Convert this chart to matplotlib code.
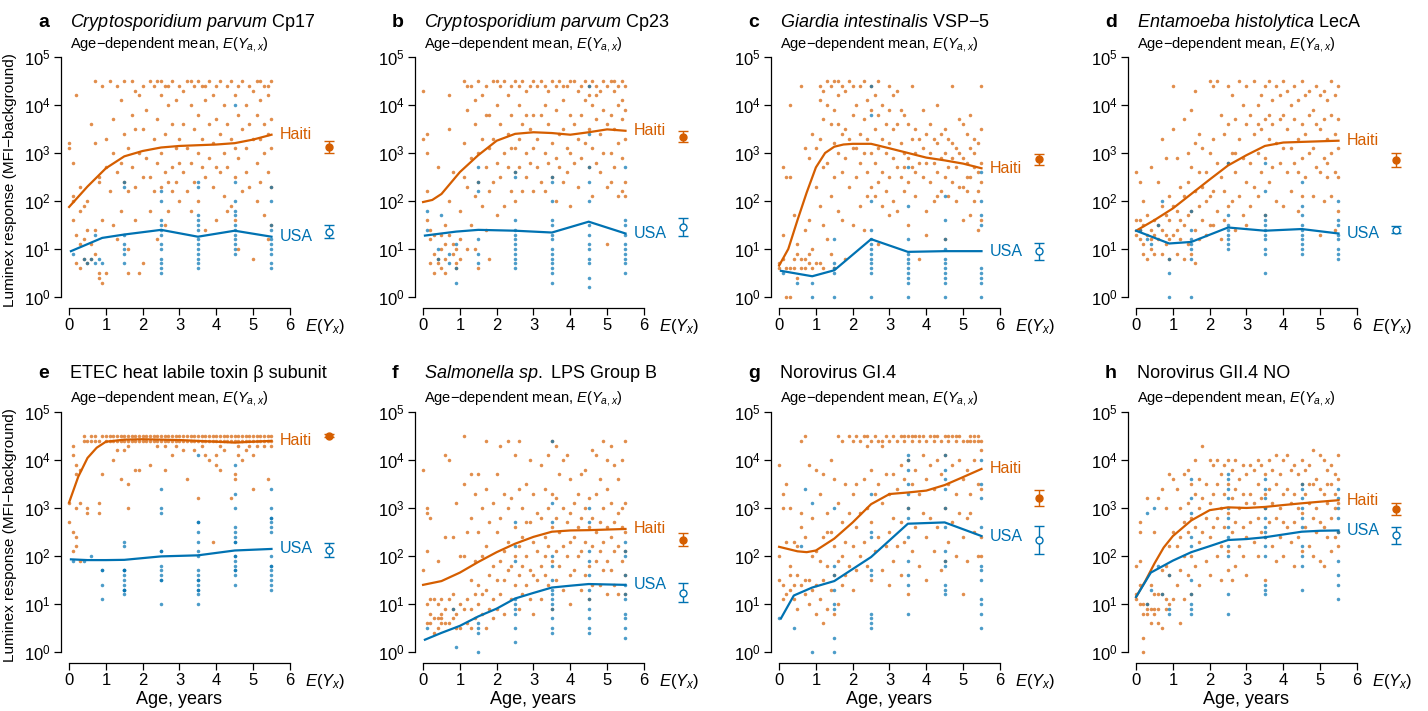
import matplotlib
matplotlib.use("Agg")
import matplotlib.pyplot as plt
import numpy as np

plt.rcParams['font.family'] = ['Liberation Sans', 'DejaVu Sans']
plt.rcParams['mathtext.fontset'] = 'custom'
plt.rcParams['mathtext.rm'] = 'Liberation Sans'
plt.rcParams['mathtext.it'] = 'Liberation Sans:italic'
plt.rcParams['mathtext.bf'] = 'Liberation Sans:bold'

ORANGE = '#D55E00'
BLUE = '#0072B2'

letters = ['a', 'b', 'c', 'd', 'e', 'f', 'g', 'h']
titles = [r'$\mathit{Cryptosporidium\ parvum}$ Cp17',
          r'$\mathit{Cryptosporidium\ parvum}$ Cp23',
          r'$\mathit{Giardia\ intestinalis}$ VSP−5',
          r'$\mathit{Entamoeba\ histolytica}$ LecA',
          'ETEC heat labile toxin β subunit',
          r'$\mathit{Salmonella\ sp.}$ LPS Group B',
          'Norovirus GI.4',
          'Norovirus GII.4 NO']

# overall means E(Y_x) with 95% CI
haiti_mean = [1350, 2200, 750, 730, 32000, 220, 1650, 950]
haiti_lo = [1000, 1700, 570, 500, 30000, 160, 1100, 720]
haiti_hi = [1800, 2900, 950, 1000, 35000, 300, 2400, 1250]
usa_mean = [23, 29, 9, 25, 130, 17, 220, 270]
usa_lo = [17, 19, 6, 21, 95, 11, 110, 180]
usa_hi = [32, 44, 13, 30, 185, 27, 420, 400]

# age-dependent means (age, value)
a_hai_curve = [(0, 75), (0.5, 200), (1, 480), (1.5, 850), (2, 1100), (2.5, 1300), (3, 1400),
               (3.5, 1450), (4, 1500), (4.5, 1600), (5, 1900), (5.5, 2400)]
a_usa_curve = [(0.05, 9), (0.9, 17), (1.5, 20), (2.5, 25), (3.5, 18), (4.5, 24), (5.5, 18)]
b_hai_curve = [(0, 95), (0.25, 105), (0.5, 140), (1, 400), (1.5, 900), (2, 1800), (2.5, 2500),
               (3, 2700), (3.5, 2600), (4, 2400), (4.5, 2700), (5, 3100), (5.5, 2900)]
b_usa_curve = [(0.05, 19), (0.9, 23), (1.5, 25), (2.5, 24), (3.5, 22), (4.5, 37), (5.5, 21)]
c_hai_curve = [(0, 4.5), (0.25, 10), (0.5, 40), (0.75, 150), (1, 500), (1.25, 1000), (1.5, 1350),
               (1.75, 1500), (2, 1550), (2.5, 1550), (3, 1250), (3.5, 1000), (4, 800),
               (4.5, 700), (5, 600), (5.5, 480)]
c_usa_curve = [(0.05, 3.5), (0.9, 2.7), (1.5, 3.6), (2.5, 16), (3.5, 8.7), (4.5, 9), (5.5, 9)]
d_hai_curve = [(0, 24), (0.5, 40), (1, 70), (1.5, 140), (2, 280), (2.5, 550), (3, 900),
               (3.5, 1400), (4, 1650), (4.5, 1700), (5, 1750), (5.5, 1800)]
d_usa_curve = [(0, 24), (0.9, 13), (1.5, 14), (2.5, 28), (3.5, 24), (4.5, 26), (5.5, 21)]
e_hai_curve = [(0, 1300), (0.25, 4500), (0.5, 11000), (0.75, 18000), (1, 24000), (1.5, 26500),
               (2, 27000), (3, 26000), (4, 24000), (4.5, 23000), (5, 24000), (5.5, 25000)]
e_usa_curve = [(0.05, 85), (0.5, 82), (1, 82), (1.5, 83), (2.5, 98), (3.5, 103), (4.5, 130), (5.5, 140)]
f_hai_curve = [(0, 25), (0.5, 30), (1, 45), (1.5, 75), (2, 120), (2.5, 180), (3, 250),
               (3.5, 320), (4, 340), (4.5, 345), (5, 355), (5.5, 365)]
f_usa_curve = [(0.05, 1.8), (0.5, 2.5), (1, 3.5), (1.5, 5.5), (2, 8), (2.5, 13), (3, 17),
               (3.5, 22), (4, 24), (4.5, 26), (5, 25.5), (5.5, 25)]
g_hai_curve = [(0, 155), (0.5, 125), (0.75, 120), (1, 130), (1.5, 230), (2, 500), (2.5, 1200),
               (3, 1950), (3.5, 2100), (4, 2300), (4.5, 3000), (5, 4400), (5.5, 6500)]
g_usa_curve = [(0.05, 5), (0.4, 15), (0.9, 22), (1.5, 30), (2.5, 95), (3.5, 470), (4.5, 500), (5.5, 260)]
h_hai_curve = [(0, 14), (0.25, 30), (0.5, 70), (0.75, 150), (1, 260), (1.5, 550), (2, 900),
               (2.5, 1030), (3, 1000), (3.5, 1050), (4, 1150), (4.5, 1250), (5, 1350), (5.5, 1450)]
h_usa_curve = [(0, 14), (0.4, 45), (1, 80), (1.5, 120), (2, 160), (2.5, 215), (3, 225),
               (3.5, 245), (4, 280), (4.5, 320), (5, 335), (5.5, 340)]

# individual measurements: (age in tenths of a year, log10 response in tenths)
a_hai = [(0,32),(0,31),(1,28),(1,21),(1,16),(2,13),(2,42),(3,18),(3,11),(3,6),(4,19),(4,12),(5,14),
         (5,20),(6,11),(6,8),(6,36),(7,14),(7,45),(7,32),(8,25),(8,5),(8,24),(9,3),(9,16),(9,44),
         (10,27),(10,5),(2,7),(4,8),(5,7),(7,9),(8,4),(1,20),(3,23),
         (10,33),(11,45),(11,22),(12,30),(12,37),(12,15),(13,44),(13,26),(14,41),(14,18),(14,28),
         (15,45),(15,34),(15,24),(16,31),(16,22),(16,10),(17,45),(17,38),(17,27),(18,23),(18,43),
         (18,16),(19,30),(19,42),(19,5),(20,44),(20,35),(20,25),(20,7),(13,12),(16,5),(18,35),
         (21,29),(21,39),(22,45),(22,25),(22,18),(23,44),(23,33),(23,22),(24,37),(24,28),(24,12),
         (25,45),(25,42),(25,30),(25,23),(26,44),(26,34),(26,26),(27,40),(27,24),(27,18),(28,45),
         (28,36),(28,27),(28,22),(29,31),(29,41),(29,24),(30,44),(30,33),(30,28),(30,20),(26,15),
         (24,45),(27,44),
         (31,43),(31,36),(31,26),(32,45),(32,31),(32,22),(33,40),(33,28),(33,18),(34,44),(34,35),
         (34,24),(35,45),(35,38),(35,30),(35,20),(36,44),(36,33),(36,27),(37,41),(37,25),(37,14),
         (38,45),(38,36),(38,29),(39,32),(39,23),(39,42),(40,44),(40,37),(40,27),(40,16),(33,45),
         (37,44),
         (41,45),(41,34),(41,26),(42,40),(42,30),(42,21),(43,44),(43,36),(43,27),(44,45),(44,33),
         (44,19),(45,42),(45,31),(45,25),(45,16),(46,44),(46,38),(46,29),(47,35),(47,22),(47,45),
         (48,40),(48,31),(48,26),(49,44),(49,36),(49,23),(50,33),(50,8),(50,43),(46,10),(43,18),
         (51,45),(51,38),(51,28),(51,20),(52,41),(52,33),(52,24),(53,44),(53,36),(53,30),(53,17),
         (54,42),(54,34),(54,26),(54,12),(55,45),(55,37),(55,31),(55,23),(55,15),(52,45),(54,44)]
a_usa = [(1,9),(4,8),(5,7),(6,8),(7,7),(8,8),(9,7),(7,13),(15,24),(15,23),(15,13),(15,11),(15,10),
         (15,9),(15,7),(25,22),(25,20),(25,16),(25,15),(25,14),(25,13),(25,11),(25,10),(25,8),
         (25,7),(25,6),(25,5),(35,24),(35,23),(35,17),(35,16),(35,15),(35,14),(35,12),(35,11),
         (35,10),(35,9),(35,8),(35,7),(35,6),(45,40),(45,24),(45,20),(45,18),(45,17),(45,15),
         (45,14),(45,13),(45,12),(45,11),(45,10),(45,9),(55,23),(55,20),(55,15),(55,14),(55,12),
         (55,11),(55,10),(55,9),(55,7),(55,6)]

b_hai = [(0,43),(0,33),(1,34),(1,30),(1,22),(1,16),(2,14),(2,12),(3,9),(3,5),(3,13),(4,27),(4,8),
         (4,7),(5,10),(5,13),(5,6),(6,15),(6,8),(6,5),(7,42),(7,35),(7,20),(7,13),(8,26),(8,11),
         (8,9),(9,7),(9,6),(10,18),(10,12),(10,8),(2,7),(6,11),(9,10),
         (11,45),(11,32),(11,25),(12,39),(12,23),(12,10),(13,44),(13,29),(13,15),(14,41),(14,36),
         (14,21),(14,10),(15,45),(15,30),(15,24),(15,6),(16,42),(16,33),(16,19),(17,44),(17,27),
         (17,14),(18,38),(18,31),(18,22),(18,8),(19,45),(19,33),(19,24),(20,45),(20,40),(20,28),
         (20,17),(12,44),(17,38),
         (21,44),(21,36),(21,25),(22,45),(22,30),(22,19),(23,42),(23,34),(23,27),(24,44),(24,38),
         (24,22),(25,45),(25,31),(25,26),(25,20),(26,44),(26,40),(26,33),(26,27),(27,45),(27,36),
         (27,22),(28,43),(28,30),(28,25),(29,44),(29,35),(29,28),(30,45),(30,38),(30,31),(30,22),
         (24,31),(28,38),
         (31,44),(31,33),(31,27),(32,45),(32,38),(32,24),(33,44),(33,30),(33,22),(34,43),(34,36),
         (34,28),(35,45),(35,32),(35,25),(36,44),(36,39),(36,29),(36,20),(37,45),(37,34),(37,27),
         (38,41),(38,35),(38,24),(39,44),(39,31),(39,26),(40,45),(40,38),(40,30),(40,19),(33,40),
         (38,44),
         (41,45),(41,36),(41,28),(42,43),(42,33),(42,23),(43,44),(43,38),(43,29),(44,45),(44,41),
         (44,32),(45,44),(45,42),(45,35),(45,27),(46,45),(46,40),(46,31),(46,21),(47,44),(47,37),
         (47,28),(48,43),(48,34),(48,26),(49,45),(49,39),(49,30),(50,44),(50,36),(50,23),(50,11),
         (47,42),
         (51,45),(51,38),(51,30),(51,24),(52,43),(52,35),(52,27),(53,44),(53,40),(53,32),(53,21),
         (54,45),(54,37),(54,29),(54,22),(55,44),(55,39),(55,33),(55,24),(55,21),(52,45),(54,41)]
b_usa = [(1,18),(1,14),(4,10),(4,8),(5,17),(7,9),(7,7),(9,6),(9,3),(9,11),(15,27),(15,24),(15,22),
         (15,12),(15,9),(15,7),(25,26),(25,25),(25,16),(25,14),(25,13),(25,12),(25,11),(25,10),
         (25,9),(25,8),(25,7),(25,6),(35,25),(35,24),(35,20),(35,16),(35,15),(35,13),(35,12),
         (35,10),(35,9),(35,8),(35,7),(35,6),(35,5),(35,3),(45,44),(45,34),(45,27),(45,24),(45,20),
         (45,15),(45,13),(45,11),(45,10),(45,8),(45,7),(45,4),(45,2),(55,27),(55,16),(55,15),
         (55,13),(55,11),(55,10),(55,9),(55,8),(55,7),(55,5)]

c_hai = [(0,7),(0,6),(1,13),(1,8),(2,25),(2,6),(2,0),(3,25),(3,6),(3,0),(4,6),(4,17),(4,8),(5,9),
         (5,4),(6,8),(6,6),(6,44),(7,14),(7,8),(7,6),(7,31),(8,9),(8,7),(8,16),(8,29),(9,34),(9,10),
         (9,6),(10,7),(10,23),(10,31),(3,40),(5,11),(1,27),
         (11,44),(11,41),(11,33),(11,19),(11,7),(12,43),(12,37),(12,27),(12,15),(12,6),(13,45),
         (13,40),(13,28),(13,12),(14,44),(14,36),(14,21),(14,9),(15,45),(15,39),(15,32),(15,25),
         (15,6),(16,42),(16,36),(16,30),(16,18),(17,44),(17,34),(17,26),(17,16),(18,43),(18,35),
         (18,29),(18,8),(19,45),(19,33),(19,23),(20,44),(20,38),(20,31),(20,15),(16,45),
         (21,40),(21,31),(21,25),(22,44),(22,34),(22,28),(22,19),(23,45),(23,37),(23,30),(23,14),
         (24,41),(24,33),(24,26),(25,44),(25,39),(25,30),(25,23),(26,42),(26,35),(26,28),(26,21),
         (27,45),(27,38),(27,31),(27,24),(27,11),(28,40),(28,33),(28,26),(28,19),(29,36),(29,30),
         (29,22),(30,44),(30,39),(30,32),(30,25),(30,17),(24,21),
         (31,42),(31,35),(31,29),(31,20),(32,43),(32,36),(32,27),(32,18),(33,39),(33,32),(33,25),
         (34,38),(34,30),(34,22),(35,36),(35,29),(35,24),(35,15),(36,44),(36,33),(36,27),(37,35),
         (37,30),(37,21),(38,33),(38,28),(38,8),(39,39),(39,31),(39,25),(40,34),(40,28),(40,18),
         (40,13),(34,27),(37,26),
         (41,36),(41,30),(41,24),(42,33),(42,28),(42,20),(43,40),(43,32),(43,26),(44,34),(44,29),
         (44,22),(45,35),(45,30),(45,25),(45,12),(46,33),(46,27),(46,21),(47,44),(47,32),(47,24),
         (48,31),(48,27),(48,20),(49,37),(49,30),(49,23),(50,36),(50,29),(50,23),(50,16),(43,21),
         (47,29),
         (51,34),(51,28),(51,22),(52,38),(52,31),(52,25),(52,17),(53,33),(53,27),(53,20),(54,32),
         (54,26),(54,22),(54,14),(55,44),(55,35),(55,28),(55,24),(55,16),(53,30),(51,25)]
c_usa = [(1,5),(5,3),(9,3),(9,0),(15,12),(15,7),(15,6),(15,5),(15,0),(25,44),(25,38),(25,20),
         (25,14),(25,12),(25,11),(25,10),(25,9),(25,8),(25,7),(25,6),(25,5),(25,0),(35,27),
         (35,19),(35,12),(35,9),(35,8),(35,7),(35,6),(35,5),(35,4),(35,3),(35,0),(45,21),(45,16),
         (45,12),(45,10),(45,8),(45,7),(45,6),(45,5),(45,4),(45,3),(45,0),(55,26),(55,20),(55,17),
         (55,15),(55,6),(55,5),(55,4),(55,3),(55,0)]

d_hai = [(0,16),(0,13),(0,26),(1,16),(1,14),(1,24),(1,12),(2,20),(2,15),(2,11),(2,9),(3,17),(3,13),
         (3,8),(4,14),(4,12),(4,10),(5,16),(5,13),(5,9),(6,24),(6,15),(6,12),(7,33),(7,19),(7,14),
         (7,9),(8,29),(8,17),(8,11),(9,21),(9,16),(9,12),(9,8),(10,44),(10,35),(10,19),(10,13),
         (4,27),(8,13),
         (11,29),(11,18),(11,14),(11,9),(12,23),(12,16),(12,12),(13,37),(13,21),(13,15),(13,8),
         (14,24),(14,17),(14,11),(15,39),(15,27),(15,18),(15,9),(16,43),(16,32),(16,22),(16,14),
         (16,7),(17,34),(17,19),(17,12),(18,31),(18,23),(18,16),(19,26),(19,20),(19,13),(20,45),
         (20,30),(20,21),(20,15),(17,26),(14,30),
         (21,44),(21,33),(21,22),(21,15),(22,45),(22,28),(22,18),(23,38),(23,25),(23,12),(24,34),
         (24,22),(24,16),(25,44),(25,36),(25,28),(25,19),(26,42),(26,30),(26,20),(27,37),(27,26),
         (27,14),(28,45),(28,33),(28,21),(29,40),(29,29),(29,17),(30,44),(30,36),(30,24),(30,15),
         (27,30),
         (31,38),(31,28),(31,19),(32,45),(32,34),(32,23),(33,40),(33,30),(33,21),(34,42),(34,35),
         (34,26),(35,44),(35,37),(35,29),(35,17),(36,45),(36,33),(36,24),(37,41),(37,36),(37,27),
         (38,44),(38,32),(38,20),(39,42),(39,37),(39,28),(40,45),(40,38),(40,31),(40,19),(36,38),
         (33,36),
         (41,43),(41,35),(41,26),(42,40),(42,31),(42,22),(43,44),(43,37),(43,28),(44,41),(44,33),
         (44,18),(45,45),(45,36),(45,29),(45,21),(46,42),(46,34),(46,25),(47,43),(47,38),(47,30),
         (48,39),(48,31),(48,21),(49,44),(49,36),(49,27),(50,42),(50,35),(50,26),(50,13),(44,26),
         (51,43),(51,37),(51,29),(51,20),(52,41),(52,33),(52,25),(53,45),(53,38),(53,30),(53,21),
         (54,42),(54,34),(54,26),(54,14),(55,44),(55,37),(55,31),(55,25),(55,18),(52,28)]
d_usa = [(1,14),(3,12),(4,11),(6,15),(7,20),(9,8),(9,5),(9,0),(15,18),(15,14),(15,12),(15,11),
         (15,10),(15,8),(15,0),(25,28),(25,17),(25,15),(25,14),(25,13),(25,12),(25,11),(25,10),
         (35,28),(35,22),(35,17),(35,16),(35,15),(35,14),(35,13),(35,12),(35,10),(35,9),(35,5),
         (45,24),(45,19),(45,17),(45,15),(45,14),(45,13),(45,12),(45,11),(45,10),(45,9),(55,20),
         (55,16),(55,15),(55,13),(55,12),(55,10),(55,9),(55,8)]

e_hai = [(0,27),(0,31),(1,25),(1,21),(1,41),(1,43),(2,39),(2,37),(2,30),(2,24),(2,22),(3,31),
         (3,38),(3,19),(4,44),(4,45),(5,30),(5,29),(6,44),(7,44),(8,31),(8,29),(9,37),(10,44),
         (12,40),(13,42),(14,36),(15,42),(16,35),(16,30),(18,38),(19,38),(22,39),(24,43),(26,38),
         (28,41),(31,42),(32,36),(34,42),(35,32),(37,41),(38,40),(39,23),(40,41),(40,39),(41,38),
         (42,42),(44,32),(45,37),(45,36),(46,41),(47,40),(48,42),(50,34),(50,41),(51,43),(54,36),
         (55,43),
         (5,44),(6,45),(7,45),(8,44),(9,45),(10,45),(11,44),(11,45),(12,44),(12,45),(13,44),(13,45),
         (14,44),(14,45),(15,44),(15,45),(16,44),(16,45),(17,44),(17,45),(18,44),(18,45),(19,44),
         (19,45),(20,44),(20,45),(21,44),(21,45),(22,44),(22,45),(23,44),(23,45),(24,44),(24,45),
         (25,44),(25,45),(26,44),(26,45),(27,44),(27,45),(28,44),(28,45),(29,44),(29,45),(30,44),
         (30,45),(31,44),(31,45),(32,44),(32,45),(33,44),(33,45),(34,44),(34,45),(35,44),(35,45),
         (36,44),(36,45),(37,44),(37,45),(38,44),(38,45),(39,44),(39,45),(40,44),(40,45),(41,44),
         (41,45),(42,44),(42,45),(43,44),(43,45),(44,44),(44,45),(45,44),(45,45),(46,44),(46,45),
         (47,44),(47,45),(48,44),(48,45),(49,44),(49,45),(50,44),(50,45),(51,44),(51,45),(52,44),
         (52,45),(53,44),(53,45),(54,44),(54,45),(55,44),(55,45),(16,43),(26,43),(36,43),(46,43),
         (29,43),(41,43),(49,43),(53,43)]
e_usa = [(1,19),(4,19),(6,20),(9,17),(9,17),(9,14),(9,11),(15,23),(15,22),(15,17),(15,17),(15,17),
         (15,16),(15,15),(15,14),(15,13),(15,13),(15,13),(15,12),(25,34),(25,30),(25,29),(25,21),
         (25,21),(25,18),(25,17),(25,16),(25,15),(25,15),(25,10),(35,41),(35,27),(35,27),(35,25),
         (35,23),(35,21),(35,20),(35,17),(35,16),(35,15),(35,15),(35,14),(35,13),(35,13),(35,12),
         (35,10),(45,39),(45,33),(45,30),(45,26),(45,25),(45,24),(45,23),(45,23),(45,20),(45,20),
         (45,19),(45,18),(45,17),(45,17),(45,16),(45,14),(55,34),(55,30),(55,28),(55,28),(55,27),
         (55,26),(55,25),(55,20),(55,18),(55,18),(55,17),(55,16),(55,15),(55,14),(55,13)]

f_hai = [(0,38),(0,17),(1,30),(1,29),(1,21),(1,10),(1,6),(2,28),(2,8),(2,6),(3,11),(3,7),(3,4),
         (4,10),(4,7),(4,5),(5,8),(5,7),(5,6),(6,41),(6,9),(6,6),(7,40),(7,11),(7,6),(8,24),(8,12),
         (8,7),(9,31),(9,8),(9,5),(10,20),(10,10),(10,5),(4,19),(6,24),(5,11),(2,11),(8,9),
         (11,45),(11,35),(11,20),(11,9),(12,25),(12,11),(12,6),(13,37),(13,28),(13,15),(13,9),
         (14,33),(14,19),(14,12),(14,7),(15,37),(15,25),(15,14),(15,10),(16,30),(16,20),(16,12),
         (16,8),(17,44),(17,34),(17,22),(17,13),(18,27),(18,16),(18,9),(19,31),(19,18),(19,11),
         (19,7),(20,37),(20,25),(20,15),(20,9),(17,5),(13,5),
         (21,43),(21,28),(21,19),(21,12),(22,33),(22,21),(22,15),(22,8),(23,44),(23,30),(23,23),
         (23,17),(24,32),(24,18),(24,11),(25,41),(25,26),(25,20),(25,14),(26,44),(26,34),(26,22),
         (26,16),(26,9),(27,30),(27,24),(27,18),(27,12),(28,35),(28,20),(28,14),(29,40),(29,27),
         (29,17),(29,11),(30,33),(30,23),(30,16),(30,8),(28,27),
         (31,29),(31,21),(31,15),(32,39),(32,28),(32,18),(32,11),(33,34),(33,24),(33,20),(34,41),
         (34,30),(34,22),(34,14),(35,44),(35,33),(35,26),(35,19),(35,9),(36,43),(36,28),(36,21),
         (36,15),(37,37),(37,25),(37,18),(38,40),(38,30),(38,22),(38,13),(39,41),(39,27),(39,20),
         (40,36),(40,29),(40,23),(40,16),(40,10),(36,32),(33,16),
         (41,31),(41,24),(41,17),(42,33),(42,26),(42,20),(43,37),(43,28),(43,21),(43,13),(44,38),
         (44,30),(44,23),(45,32),(45,26),(45,18),(45,11),(46,42),(46,28),(46,22),(46,14),(47,41),
         (47,33),(47,25),(47,19),(48,36),(48,27),(48,21),(48,14),(49,44),(49,30),(49,23),(49,17),
         (50,40),(50,34),(50,26),(50,19),(50,12),(44,16),
         (51,43),(51,31),(51,24),(51,17),(52,39),(52,27),(52,21),(52,14),(53,36),(53,29),(53,22),
         (53,12),(54,40),(54,26),(54,19),(55,44),(55,31),(55,25),(55,21),(55,16),(55,12),(54,30)]
f_usa = [(1,5),(8,9),(9,1),(15,6),(15,5),(15,4),(15,0),(25,27),(25,22),(25,19),(25,11),(25,10),
         (25,9),(25,8),(25,5),(25,2),(35,44),(35,31),(35,27),(35,20),(35,18),(35,15),(35,13),
         (35,12),(35,11),(35,10),(35,9),(35,7),(35,5),(35,4),(45,30),(45,27),(45,21),(45,19),
         (45,16),(45,13),(45,11),(45,9),(45,7),(45,5),(45,4),(55,23),(55,21),(55,20),(55,16),
         (55,14),(55,12),(55,11),(55,8),(55,7),(55,5),(55,3)]

g_hai = [(0,39),(0,20),(0,15),(1,33),(1,30),(1,14),(1,11),(2,35),(2,23),(2,12),(3,18),(3,16),
         (3,13),(4,23),(4,14),(4,11),(5,22),(5,16),(5,9),(6,44),(6,29),(6,14),(7,45),(7,24),(7,15),
         (7,12),(8,39),(8,15),(8,10),(9,28),(9,20),(9,13),(10,38),(10,21),(10,14),(10,8),(3,30),
         (6,26),
         (11,33),(11,19),(11,11),(12,37),(12,24),(12,15),(12,6),(13,29),(13,18),(13,9),(14,40),
         (14,25),(14,13),(15,36),(15,22),(15,16),(15,8),(16,45),(16,31),(16,19),(16,10),(17,44),
         (17,27),(17,14),(18,35),(18,23),(18,16),(19,45),(19,29),(19,18),(20,44),(20,33),(20,22),
         (20,13),(17,20),(13,25),
         (21,45),(21,35),(21,26),(21,17),(22,44),(22,29),(22,20),(23,45),(23,36),(23,23),(24,43),
         (24,30),(24,18),(25,44),(25,38),(25,27),(25,15),(26,45),(26,33),(26,21),(27,44),(27,35),
         (27,24),(28,43),(28,31),(28,17),(29,45),(29,37),(29,22),(30,44),(30,33),(30,25),(30,14),
         (24,45),(28,44),
         (31,45),(31,37),(31,28),(31,19),(32,44),(32,34),(32,22),(33,45),(33,39),(33,27),(33,16),
         (34,44),(34,36),(34,23),(35,45),(35,40),(35,30),(35,12),(36,44),(36,35),(36,21),(37,45),
         (37,38),(37,26),(38,44),(38,33),(38,18),(39,45),(39,41),(39,29),(40,44),(40,36),(40,24),
         (40,15),(36,45),(38,45),(34,45),
         (41,45),(41,39),(41,28),(42,44),(42,34),(42,21),(43,45),(43,40),(43,26),(44,44),(44,37),
         (44,17),(45,45),(45,41),(45,30),(45,19),(46,44),(46,35),(46,23),(47,45),(47,39),(47,27),
         (48,44),(48,33),(48,20),(49,45),(49,40),(49,29),(50,44),(50,36),(50,24),(50,12),(42,45),
         (46,45),(48,45),
         (51,44),(51,38),(51,28),(51,19),(52,45),(52,33),(52,29),(53,44),(53,40),(53,25),(54,45),
         (54,35),(54,20),(55,44),(55,42),(55,34),(55,24),(55,20),(52,44),(54,44),(53,45)]
g_usa = [(0,7),(4,5),(6,22),(7,34),(9,31),(9,0),(15,30),(15,18),(15,16),(15,13),(15,10),(15,9),
         (15,3),(15,0),(25,33),(25,25),(25,24),(25,17),(25,16),(25,8),(25,7),(25,6),(25,5),(35,41),
         (35,40),(35,38),(35,35),(35,33),(35,30),(35,28),(35,24),(35,19),(35,16),(35,14),(35,8),
         (45,41),(45,38),(45,36),(45,34),(45,30),(45,26),(45,21),(45,19),(45,18),(45,14),(45,13),
         (45,12),(55,40),(55,35),(55,32),(55,26),(55,18),(55,17),(55,15),(55,11),(55,10),(55,8),
         (55,5)]

h_hai = [(0,18),(0,12),(0,11),(1,19),(1,14),(1,27),(1,10),(2,8),(2,10),(2,3),(2,0),(3,32),(3,10),
         (3,9),(3,8),(4,14),(4,9),(4,6),(5,12),(5,9),(5,8),(6,32),(6,12),(6,9),(6,6),(7,34),(7,17),
         (7,12),(7,5),(8,30),(8,18),(8,11),(8,9),(9,37),(9,22),(9,16),(9,10),(10,36),(10,25),
         (10,11),(1,25),(5,25),
         (11,34),(11,22),(11,14),(12,30),(12,24),(12,17),(12,6),(13,37),(13,27),(13,20),(13,11),
         (14,38),(14,31),(14,25),(14,16),(15,35),(15,28),(15,20),(15,12),(16,33),(16,26),(16,18),
         (17,36),(17,30),(17,23),(17,14),(18,43),(18,32),(18,25),(19,35),(19,28),(19,19),(20,40),
         (20,31),(20,24),(20,16),(16,40),
         (21,39),(21,33),(21,26),(22,40),(22,35),(22,28),(22,20),(23,37),(23,30),(23,22),(23,15),
         (24,39),(24,33),(24,26),(25,40),(25,35),(25,29),(25,21),(26,38),(26,32),(26,25),(26,15),
         (27,40),(27,34),(27,27),(27,18),(28,36),(28,30),(28,22),(29,39),(29,33),(29,26),(29,20),
         (30,37),(30,31),(30,24),(30,16),(25,17),
         (31,39),(31,33),(31,27),(32,38),(32,31),(32,23),(33,40),(33,35),(33,28),(33,20),(34,39),
         (34,32),(34,25),(35,37),(35,30),(35,24),(35,15),(36,40),(36,34),(36,27),(37,38),(37,31),
         (37,22),(38,41),(38,35),(38,28),(38,19),(39,37),(39,30),(39,24),(40,40),(40,33),(40,27),
         (40,20),(35,33),
         (41,41),(41,34),(41,26),(42,38),(42,31),(42,23),(43,39),(43,33),(43,27),(43,18),(44,37),
         (44,30),(44,24),(45,40),(45,35),(45,29),(45,21),(46,38),(46,33),(46,26),(47,39),(47,31),
         (47,22),(48,42),(48,35),(48,28),(48,20),(49,36),(49,30),(49,25),(50,41),(50,34),(50,27),
         (50,19),(47,35),
         (51,40),(51,33),(51,26),(51,18),(52,38),(52,31),(52,24),(53,39),(53,35),(53,28),(53,21),
         (54,37),(54,30),(54,24),(55,41),(55,36),(55,31),(55,25),(55,22),(52,35),(54,33)]
h_usa = [(3,29),(3,10),(4,13),(5,30),(6,18),(7,12),(9,16),(9,9),(9,8),(15,36),(15,32),(15,29),
         (15,24),(15,22),(15,15),(15,12),(15,10),(15,9),(15,8),(25,37),(25,36),(25,34),(25,32),
         (25,30),(25,28),(25,26),(25,24),(25,22),(25,20),(25,12),(25,8),(35,36),(35,34),(35,32),
         (35,30),(35,28),(35,26),(35,25),(35,24),(35,22),(35,20),(35,14),(35,13),(35,12),(45,35),
         (45,34),(45,32),(45,30),(45,28),(45,26),(45,22),(45,20),(45,18),(45,13),(55,34),(55,32),
         (55,30),(55,28),(55,25),(55,19),(55,16),(55,14),(55,11)]

hai_pts = [a_hai, b_hai, c_hai, d_hai, e_hai, f_hai, g_hai, h_hai]
usa_pts = [a_usa, b_usa, c_usa, d_usa, e_usa, f_usa, g_usa, h_usa]
hai_curves = [a_hai_curve, b_hai_curve, c_hai_curve, d_hai_curve,
              e_hai_curve, f_hai_curve, g_hai_curve, h_hai_curve]
usa_curves = [a_usa_curve, b_usa_curve, c_usa_curve, d_usa_curve,
              e_usa_curve, f_usa_curve, g_usa_curve, h_usa_curve]

W, H = 1428, 711
fig = plt.figure(figsize=(W / 100, H / 100), dpi=100)

col_x = [61, 415, 771, 1128]      # left spine, pixels
row_axis = [308, 663]            # x-axis line, pixels from top
title_base = [27, 378]
sub_base = [48.5, 402]
XMIN, XMAX = -0.22, 7.5
YMIN, YMAX = 10 ** -0.23, 10 ** 5.1
px_per_year = 36.8
px_per_dec = 48.0

for i in range(8):
    r, c = divmod(i, 4)
    left = col_x[c]
    width = (XMAX - XMIN) * px_per_year
    height = (np.log10(YMAX) - np.log10(YMIN)) * px_per_dec
    bottom = H - row_axis[r]
    ax = fig.add_axes([left / W, bottom / H, width / W, height / H])
    ax.patch.set_alpha(0)

    hp = np.array(hai_pts[i]) / 10.0
    up = np.array(usa_pts[i]) / 10.0
    ax.scatter(hp[:, 0], 10 ** hp[:, 1], s=6.5, color=ORANGE, alpha=0.7, lw=0, zorder=2)
    ax.scatter(up[:, 0], 10 ** up[:, 1], s=6.5, color=BLUE, alpha=0.7, lw=0, zorder=2)

    hc = np.array(hai_curves[i])
    uc = np.array(usa_curves[i])
    ax.plot(hc[:, 0], hc[:, 1], color=ORANGE, lw=1.6, zorder=3)
    ax.plot(uc[:, 0], uc[:, 1], color=BLUE, lw=1.6, zorder=3)
    ax.text(5.72, hc[-1, 1], 'Haiti', color=ORANGE, fontsize=11.5, va='center', ha='left')
    ax.text(5.72, uc[-1, 1], 'USA', color=BLUE, fontsize=11.5, va='center', ha='left')

    ax.errorbar([7.05], [haiti_mean[i]],
                yerr=[[haiti_mean[i] - haiti_lo[i]], [haiti_hi[i] - haiti_mean[i]]],
                fmt='o', color=ORANGE, ms=5, capsize=3.5, elinewidth=1, capthick=1, zorder=4)
    ax.errorbar([7.05], [usa_mean[i]],
                yerr=[[usa_mean[i] - usa_lo[i]], [usa_hi[i] - usa_mean[i]]],
                fmt='o', color=BLUE, mfc='white', mec=BLUE, ms=5, mew=1,
                capsize=3.5, elinewidth=1, capthick=1, zorder=4)

    ax.set_xlim(XMIN, XMAX)
    ax.set_yscale('log')
    ax.set_ylim(YMIN, YMAX)
    ax.set_xticks(range(7))
    ax.set_yticks([1, 10, 100, 1e3, 1e4, 1e5])
    ax.set_yticklabels([r'$10^{%d}$' % k for k in range(6)])
    ax.yaxis.set_minor_locator(matplotlib.ticker.NullLocator())
    ax.tick_params(labelsize=12, length=5, width=0.9, direction='out', pad=2.5)
    for s in ['top', 'right']:
        ax.spines[s].set_visible(False)
    ax.spines['left'].set_bounds(1, 1e5)
    ax.spines['bottom'].set_bounds(0, 6)
    ax.spines['left'].set_position(('data', XMIN))
    for s in ['left', 'bottom']:
        ax.spines[s].set_linewidth(0.9)

    ax.annotate(r'$E(Y_x)$', xy=(6.95, 0), xycoords=('data', 'axes fraction'),
                xytext=(0, -6.5), textcoords='offset points', ha='center', va='top', fontsize=12)
    if c == 0:
        ax.set_ylabel('Luminex response (MFI−background)', fontsize=11, labelpad=5)
    if r == 1:
        ax.annotate('Age, years', xy=(3, 0), xycoords=('data', 'axes fraction'),
                    xytext=(0, -26), textcoords='offset points', ha='center', va='center',
                    fontsize=13)

    fig.text((left - 23) / W, 1 - title_base[r] / H, letters[i], fontsize=14,
             fontweight='bold', va='baseline', ha='left')
    fig.text((left + 9) / W, 1 - title_base[r] / H, titles[i], fontsize=13,
             va='baseline', ha='left')
    fig.text((left + 9) / W, 1 - sub_base[r] / H,
             r'Age−dependent mean, $E(Y_{a,x})$', fontsize=10.5, va='baseline', ha='left')

fig.savefig('out.png', dpi=100)
